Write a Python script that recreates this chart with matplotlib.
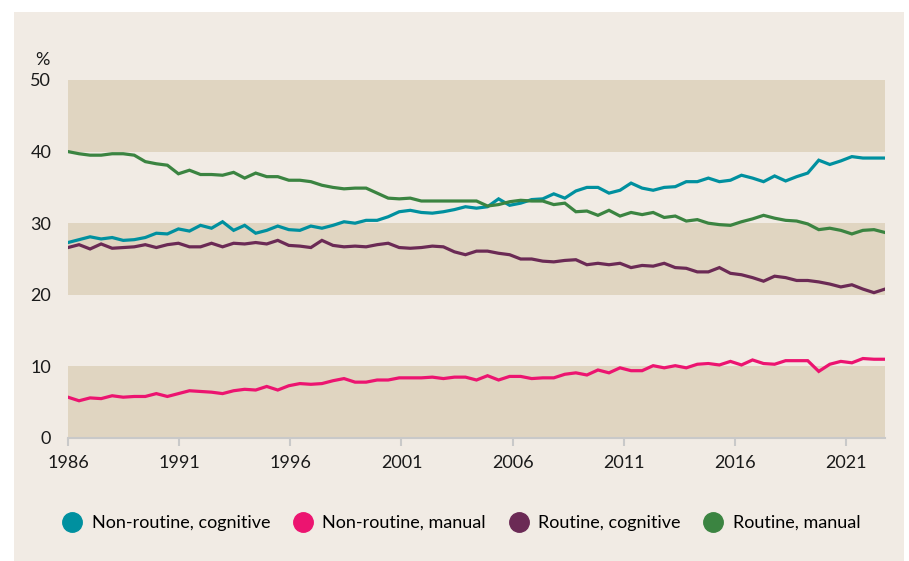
import matplotlib.pyplot as plt
import numpy as np
from matplotlib.lines import Line2D
from matplotlib.patches import Rectangle

plt.rcParams["font.family"] = ["Lato", "DejaVu Sans"]

# half-yearly observations, 1986 to end-2022
dates = np.linspace(1986, 2022.75, 75)

nonroutine_cognitive = [
    27.3, 27.7, 28.1, 27.8, 28.0, 27.6, 27.7, 28.0, 28.6, 28.5,
    29.2, 28.9, 29.7, 29.3, 30.2, 29.0, 29.7, 28.6, 29.0, 29.6,
    29.1, 29.0, 29.6, 29.3, 29.7, 30.2, 30.0, 30.4, 30.4, 30.9,
    31.6, 31.8, 31.5, 31.4, 31.6, 31.9, 32.3, 32.1, 32.3, 33.4,
    32.5, 32.8, 33.3, 33.4, 34.1, 33.5, 34.5, 35.0, 35.0, 34.2,
    34.6, 35.6, 34.9, 34.6, 35.0, 35.1, 35.8, 35.8, 36.3, 35.8,
    36.0, 36.7, 36.3, 35.8, 36.6, 35.9, 36.5, 37.0, 38.8, 38.2,
    38.7, 39.3, 39.1, 39.1, 39.1,
]
nonroutine_manual = [
    5.7, 5.2, 5.6, 5.5, 5.9, 5.7, 5.8, 5.8, 6.2, 5.8,
    6.2, 6.6, 6.5, 6.4, 6.2, 6.6, 6.8, 6.7, 7.2, 6.7,
    7.3, 7.6, 7.5, 7.6, 8.0, 8.3, 7.8, 7.8, 8.1, 8.1,
    8.4, 8.4, 8.4, 8.5, 8.3, 8.5, 8.5, 8.1, 8.7, 8.1,
    8.6, 8.6, 8.3, 8.4, 8.4, 8.9, 9.1, 8.8, 9.5, 9.1,
    9.8, 9.4, 9.4, 10.1, 9.8, 10.1, 9.8, 10.3, 10.4, 10.2,
    10.7, 10.2, 10.9, 10.4, 10.3, 10.8, 10.8, 10.8, 9.3, 10.3,
    10.7, 10.5, 11.1, 11.0, 11.0,
]
routine_cognitive = [
    26.6, 27.0, 26.4, 27.1, 26.5, 26.6, 26.7, 27.0, 26.6, 27.0,
    27.2, 26.7, 26.7, 27.2, 26.7, 27.2, 27.1, 27.3, 27.1, 27.6,
    26.9, 26.8, 26.6, 27.6, 26.9, 26.7, 26.8, 26.7, 27.0, 27.2,
    26.6, 26.5, 26.6, 26.8, 26.7, 26.0, 25.6, 26.1, 26.1, 25.8,
    25.6, 25.0, 25.0, 24.7, 24.6, 24.8, 24.9, 24.2, 24.4, 24.2,
    24.4, 23.8, 24.1, 24.0, 24.4, 23.8, 23.7, 23.2, 23.2, 23.8,
    23.0, 22.8, 22.4, 21.9, 22.6, 22.4, 22.0, 22.0, 21.8, 21.5,
    21.1, 21.4, 20.8, 20.3, 20.8,
]
routine_manual = [
    40.0, 39.7, 39.5, 39.5, 39.7, 39.7, 39.5, 38.6, 38.3, 38.1,
    36.9, 37.4, 36.8, 36.8, 36.7, 37.1, 36.3, 37.0, 36.5, 36.5,
    36.0, 36.0, 35.8, 35.3, 35.0, 34.8, 34.9, 34.9, 34.2, 33.5,
    33.4, 33.5, 33.1, 33.1, 33.1, 33.1, 33.1, 33.1, 32.4, 32.6,
    33.0, 33.2, 33.1, 33.1, 32.6, 32.8, 31.6, 31.7, 31.1, 31.8,
    31.0, 31.5, 31.2, 31.5, 30.8, 31.0, 30.3, 30.5, 30.0, 29.8,
    29.7, 30.2, 30.6, 31.1, 30.7, 30.4, 30.3, 29.9, 29.1, 29.3,
    29.0, 28.5, 29.0, 29.1, 28.7,
]

labels = ["Non-routine, cognitive", "Non-routine, manual",
          "Routine, cognitive", "Routine, manual"]
colors = ["#00909F", "#EC1470", "#6B2A55", "#3B8441"]
series = [nonroutine_cognitive, nonroutine_manual, routine_cognitive, routine_manual]

panel_bg = "#F1EBE4"
band = "#E0D5C1"

fig = plt.figure(figsize=(9.09, 5.61), dpi=100, facecolor="white")
fig.patches.append(Rectangle((14 / 909, 0), 890 / 909, 549 / 561,
                             transform=fig.transFigure, facecolor=panel_bg,
                             edgecolor="none", zorder=-10))

ax = fig.add_axes([68 / 909, 123 / 561, 817 / 909, 358 / 561])
ax.set_facecolor("none")
for lo in (0, 20, 40):
    ax.axhspan(lo, lo + 10, color=band, lw=0, zorder=0)

for vals, c in zip(series, colors):
    ax.plot(dates, vals, color=c, lw=2.3, solid_joinstyle="miter", zorder=3)

ax.set_xlim(1986, 2022.75)
ax.set_ylim(0, 50)
ax.set_xticks(range(1986, 2022, 5))
ax.set_yticks(range(0, 51, 10))
for s in ("top", "right", "left"):
    ax.spines[s].set_visible(False)
ax.spines["bottom"].set_color("#C9C9C9")
ax.spines["bottom"].set_linewidth(1.5)
ax.tick_params(axis="x", colors="#C9C9C9", length=6, width=1.5, pad=6,
               labelcolor="#1A1A1A", labelsize=13)
ax.tick_params(axis="y", length=0, pad=12, labelcolor="#1A1A1A", labelsize=13)
fig.text(35 / 909, 1 - 60 / 561, "%", fontsize=13, color="#1A1A1A",
         va="center", ha="left")

handles = [Line2D([], [], ls="none", marker="o", markersize=14,
                  markerfacecolor=c, markeredgecolor=c) for c in colors]
fig.legend(handles, labels, loc="center", bbox_to_anchor=(0.508, 0.068),
           ncol=4, frameon=False, fontsize=13, handletextpad=0.6,
           columnspacing=1.3, handlelength=1.0)

fig.savefig("out.png", dpi=100, facecolor="white")
